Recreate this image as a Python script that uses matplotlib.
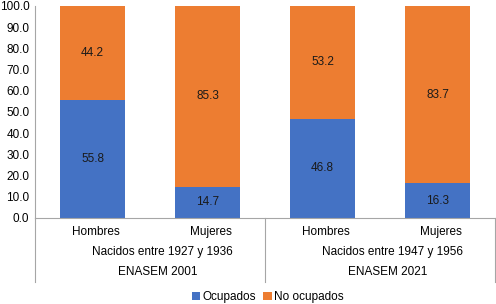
import matplotlib.pyplot as plt
import numpy as np

plt.rcParams['font.family'] = ['Liberation Sans', 'DejaVu Sans']

sexes = ["Hombres", "Mujeres", "Hombres", "Mujeres"]
cohorts = ["Nacidos entre 1927 y 1936", "Nacidos entre 1947 y 1956"]
surveys = ["ENASEM 2001", "ENASEM 2021"]
ocupados = [55.8, 14.7, 46.8, 16.3]
no_ocupados = [44.2, 85.3, 53.2, 83.7]
yticks = np.arange(0, 101, 10)

blue = "#4472C4"
orange = "#ED7D31"
axis_col = "#A6A6A6"
fs = 8.5

W, H = 496, 304
fig = plt.figure(figsize=(W/100, H/100), dpi=100)
x0, x1 = 35, 495
y0, y1 = 218, 6
ax = fig.add_axes([x0/W, 1 - y0/H, (x1-x0)/W, (y0-y1)/H])
unit = (x1 - x0) / 4.0  # pixels per category

x = np.arange(len(sexes))
b1 = ax.bar(x, ocupados, width=0.57, color=blue, label="Ocupados")
b2 = ax.bar(x, no_ocupados, bottom=ocupados, width=0.57, color=orange, label="No ocupados")
for i in range(len(x)):
    ax.text(x[i], ocupados[i]/2, f"{ocupados[i]:.1f}", ha='center', va='center', fontsize=fs, color='#1a1a1a')
    ax.text(x[i], ocupados[i] + no_ocupados[i]/2, f"{no_ocupados[i]:.1f}", ha='center', va='center', fontsize=fs, color='#1a1a1a')

ax.set_xlim(-0.5, len(sexes) - 0.5)
ax.set_ylim(0, 100)
ax.set_yticks(yticks)
ax.set_yticklabels([f"{v:.1f}" for v in yticks], fontsize=fs)
ax.tick_params(axis='y', length=0, pad=4)
ax.set_xticks([])
for s in ['top', 'right']:
    ax.spines[s].set_visible(False)
ax.spines['left'].set_color(axis_col)
ax.spines['bottom'].set_color(axis_col)
ax.spines['left'].set_linewidth(0.8)
ax.spines['bottom'].set_linewidth(0.8)

trans = ax.get_xaxis_transform()
def ypix(p):
    return (y0 - p) / (y0 - y1)

for i, s in enumerate(sexes):
    ax.text(x[i] + 3/unit, ypix(232), s, transform=trans, ha='center', va='center', fontsize=fs, clip_on=False)
for j, c in enumerate(cohorts):
    ax.text(2*j + 0.5 + 12/unit, ypix(252), c, transform=trans, ha='center', va='center', fontsize=fs, clip_on=False)
for j, s in enumerate(surveys):
    ax.text(2*j + 0.5 + 8/unit, ypix(272), s, transform=trans, ha='center', va='center', fontsize=fs, clip_on=False)
for xv in [-0.5, 1.5, 3.5]:
    ax.plot([xv, xv], [0, ypix(282)], transform=trans, color=axis_col, lw=0.8, clip_on=False)

fig.legend(handles=[b1, b2], loc='center', bbox_to_anchor=(0.54, 1 - 297/H), ncol=2,
           frameon=False, fontsize=fs, handlelength=0.7, handleheight=0.7,
           handletextpad=0.2, columnspacing=0.6)

fig.savefig("out.png", dpi=100)
